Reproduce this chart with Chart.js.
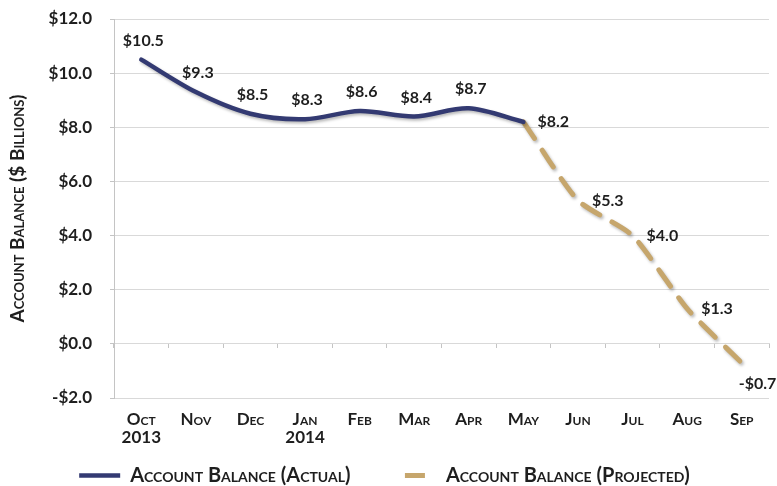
<!DOCTYPE html>
<html>
<head>
<meta charset="utf-8">
<script src="https://cdn.jsdelivr.net/npm/chart.js@4/dist/chart.umd.min.js"></script>
<style>
  html, body { margin: 0; padding: 0; background: #ffffff; }
  #wrap { width: 777px; height: 486px; }
</style>
</head>
<body>
<div id="wrap"><canvas id="c" width="777" height="486"></canvas></div>
<script>
// ---- data ----
const categories = [['Oct', '2013'], 'Nov', 'Dec', ['Jan', '2014'], 'Feb', 'Mar', 'Apr', 'May', 'Jun', 'Jul', 'Aug', 'Sep'];
const actualBalance    = [10.5, 9.3, 8.5, 8.3, 8.6, 8.4, 8.7, 8.2, null, null, null, null];
const projectedBalance = [null, null, null, null, null, null, null, 8.2, 5.3, 4.0, 1.3, -0.7];
const yTickValues = [-2, 0, 2, 4, 6, 8, 10, 12];
const seriesNames = ['Account Balance (Actual)', 'Account Balance (Projected)'];

// ---- styles ----
const NAVY = '#333a72';
const TAN = '#c6a66c';
const GRID = '#d9d9d9';
const TEXT = '#1e1e1e';
const FAMILY = 'Lato, "Open Sans", sans-serif';
// label placement per category (style only)
const labelPlacement = ['above', 'above', 'above', 'above', 'above', 'above', 'above', 'right', 'right', 'right', 'right', 'belowRight'];

function money(v) {
  const s = '$' + Math.abs(v).toFixed(1);
  return v < 0 ? '-' + s : s;
}

const shadowPlugin = {
  id: 'lineShadow',
  beforeDatasetDraw(chart) {
    const ctx = chart.ctx;
    ctx.save();
    ctx.shadowColor = 'rgba(0,0,0,0.28)';
    ctx.shadowBlur = 3;
    ctx.shadowOffsetX = 1.5;
    ctx.shadowOffsetY = 2;
  },
  afterDatasetDraw(chart) {
    chart.ctx.restore();
  }
};

const valueLabels = {
  id: 'valueLabels',
  afterDatasetsDraw(chart) {
    const ctx = chart.ctx;
    ctx.save();
    ctx.font = 'bold 16px ' + FAMILY;
    ctx.fillStyle = TEXT;
    const done = new Set();
    chart.data.datasets.forEach((ds, di) => {
      const meta = chart.getDatasetMeta(di);
      meta.data.forEach((pt, i) => {
        const v = ds.data[i];
        if (v === null || v === undefined || done.has(i)) return;
        done.add(i);
        const place = labelPlacement[i];
        let x = pt.x, y = pt.y;
        ctx.textBaseline = 'middle';
        if (place === 'above') {
          ctx.textAlign = 'center';
          x += 2; y -= 19;
        } else if (place === 'right') {
          ctx.textAlign = 'left';
          x += 14;
        } else {
          ctx.textAlign = 'left';
          x -= 3; y += 21;
        }
        ctx.fillText(money(v), x, y);
      });
    });
    ctx.restore();
  }
};

new Chart(document.getElementById('c'), {
  type: 'line',
  data: {
    labels: categories,
    datasets: [
      {
        label: seriesNames[0],
        data: actualBalance,
        borderColor: NAVY,
        backgroundColor: NAVY,
        borderWidth: 4.5,
        tension: 0.3,
        pointRadius: 0,
        borderCapStyle: 'round',
        fill: false
      },
      {
        label: seriesNames[1],
        data: projectedBalance,
        borderColor: TAN,
        backgroundColor: TAN,
        borderWidth: 5,
        borderDash: [20, 14],
        borderCapStyle: 'round',
        tension: 0.2,
        pointRadius: 0,
        fill: false
      }
    ]
  },
  options: {
    responsive: false,
    animation: false,
    devicePixelRatio: 1,
    layout: { padding: { top: 19, right: 8, left: 0, bottom: -9.5 } },
    scales: {
      x: {
        type: 'category',
        position: 'bottom',
        offset: true,
        grid: { display: false, drawTicks: false },
        border: { display: false },
        ticks: {
          padding: 13,
          autoSkip: false,
          maxRotation: 0,
          color: TEXT,
          font: { family: FAMILY, size: 17, weight: 'small-caps bold', lineHeight: 1.05 }
        },
        afterFit(s) { s.height = 65.5; s.paddingLeft = 0; s.paddingRight = 0; }
      },
      x2: {
        type: 'category',
        axis: 'x',
        position: { y: 0 },
        offset: true,
        grid: { drawOnChartArea: false, drawTicks: true, tickLength: 4, offset: true, color: '#c4c4c4' },
        border: { display: true, color: GRID },
        ticks: { display: false }
      },
      y: {
        type: 'linear',
        position: 'left',
        min: yTickValues[0],
        max: yTickValues[yTickValues.length - 1],
        afterBuildTicks(s) { s.ticks = yTickValues.map(v => ({ value: v })); },
        grid: { color: GRID, lineWidth: 1, tickLength: 4, tickColor: '#c4c4c4' },
        border: { display: true, color: '#c4c4c4' },
        ticks: {
          padding: 18,
          color: TEXT,
          font: { family: FAMILY, size: 17, weight: 'bold' },
          callback: (v) => money(v)
        },
        title: {
          display: true,
          text: 'Account Balance ($ Billions)',
          color: TEXT,
          padding: { top: 8, bottom: 0 },
          font: { family: FAMILY, size: 19, weight: 'small-caps bold', lineHeight: 1.0 }
        },
        afterFit(s) { s.width = 114; s.paddingTop = 0; s.paddingBottom = 0; }
      }
    },
    plugins: {
      legend: {
        display: true,
        position: 'bottom',
        labels: {
          padding: 2,
          usePointStyle: true,
          pointStyleWidth: 41,
          boxHeight: 5,
          color: TEXT,
          font: { family: FAMILY, size: 20, weight: 'small-caps bold', lineHeight: 1.0 },
          generateLabels(chart) {
            return chart.data.datasets.map((ds, i) => ({
              text: i === 0 ? ds.label + '\u2003\u2003\u2002\u2009' : ds.label,
              fillStyle: ds.borderColor,
              strokeStyle: ds.borderColor,
              lineWidth: i === 0 ? 4.5 : 5,
              lineDash: i === 0 ? [] : [20, 100],
              lineDashOffset: i === 0 ? 0 : -10,
              lineCap: 'butt',
              pointStyle: 'line',
              hidden: false,
              datasetIndex: i,
              fontColor: TEXT
            }));
          }
        }
      },
      tooltip: { enabled: false }
    }
  },
  plugins: [shadowPlugin, valueLabels]
});
</script>
</body>
</html>
